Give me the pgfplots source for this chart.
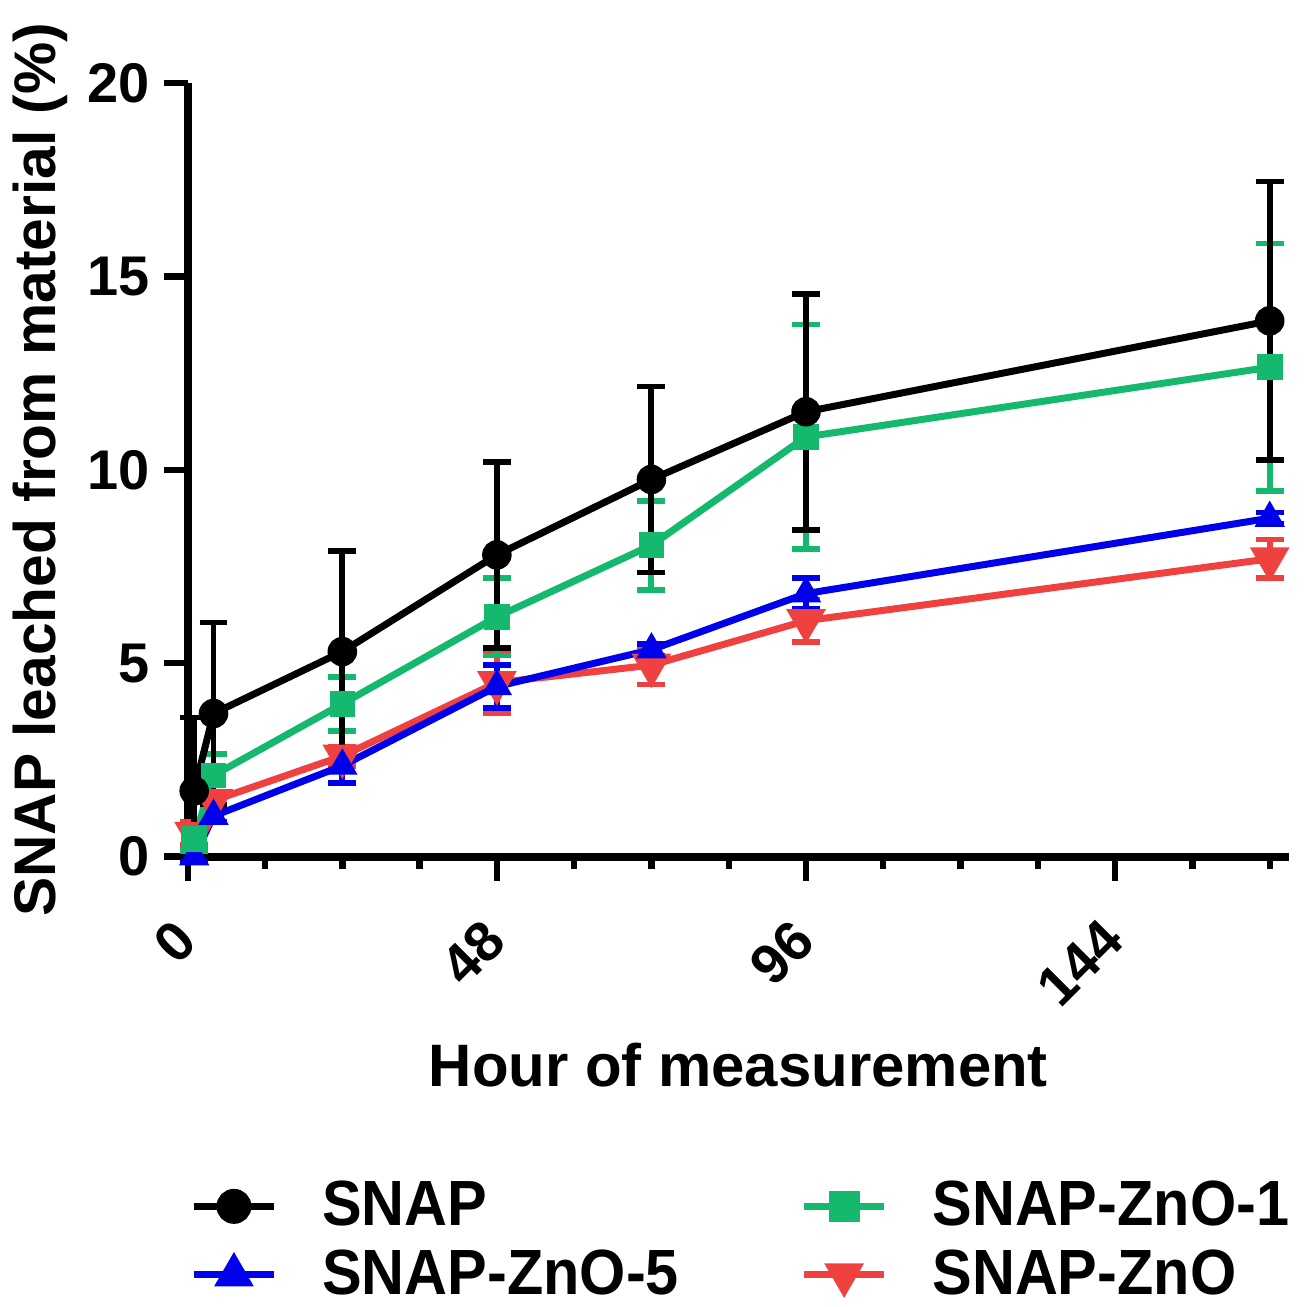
\documentclass[border=0pt]{standalone}
\usepackage{fontspec}
\setmainfont{Liberation Sans}
\newfontfamily\legfont[FakeStretch=0.93]{Liberation Sans}
\usepackage{pgfplots}
\pgfplotsset{compat=1.18}
\definecolor{cgreen}{RGB}{20,185,110}
\definecolor{cred}{RGB}{240,65,65}
\definecolor{cblue}{RGB}{0,0,235}

\pgfplotsset{
  ebar/.style={
    line width=1.75pt,
    mark options={solid, line width=0.4pt},
    error bars/.cd, y dir=both, y explicit,
    error bar style={line width=1.5pt},
    error mark options={rotate=90, line width=1.4pt, mark size=3.5pt},
    /pgfplots/.cd,
  },
}

\begin{document}
\begin{tikzpicture}
\begin{axis}[
  scale only axis,
  width=275.75pt, height=193.75pt,
  xmin=0, xmax=171, ymin=0, ymax=20,
  axis lines*=left,
  axis line style={line width=2pt},
  xtick={0,48,96,144},
  minor xtick={12,24,36,60,72,84,108,120,132,156,168},
  ytick={0,5,10,15,20},
  tick align=outside,
  major tick length=6pt, minor tick length=3pt,
  tick style={line width=1.6pt, black},
  /pgf/number format/assume math mode=true,
  tick label style={font=\fontsize{14}{14}\selectfont\bfseries},
  xticklabel style={xshift=-4pt, yshift=-4pt, rotate=45, anchor=north east},
  label style={font=\fontsize{15}{15}\selectfont\bfseries},
  xlabel={Hour of measurement},
  ylabel={SNAP leached from material (\%)},
  ylabel style={font=\fontsize{14.7}{14.7}\selectfont\bfseries},
  ylabel shift=-2pt,
  clip=false,
  legend columns=2,
  legend cell align=left,
  legend style={draw=none, fill=none, inner sep=0pt,
    at={(0,-0.582)}, xshift=0.5pt, anchor=south west,
    font=\legfont\fontsize{16}{16}\selectfont\bfseries,
    nodes={inner sep=1.5pt}, row sep=1.5pt,
    /tikz/every even column/.append style={column sep=29pt}},
  legend image code/.code={\draw[mark repeat=2, mark phase=2, #1]
    plot coordinates {(0pt,0pt) (10pt,0pt) (20pt,0pt)};
    \path (29.75pt,0pt);},
]
\addlegendimage{black, line width=1.75pt, mark=*, mark size=3.5pt, mark options={solid}}
\addlegendimage{cgreen, line width=1.75pt, mark=square*, mark size=3pt, mark options={solid}}
\addlegendimage{cblue, line width=1.75pt, mark=triangle*, mark size=4pt, mark options={solid}}
\addlegendimage{cred, line width=1.75pt, mark=triangle*, mark size=4pt, mark options={solid, rotate=180}}
\legend{SNAP, SNAP-ZnO-1, SNAP-ZnO-5, SNAP-ZnO}

% room above and to the right, as in the reference
\path (rel axis cs:1,1) ++(4.5pt,20.75pt);

% SNAP-ZnO
\addplot[cred, ebar, mark=triangle*, mark size=4pt, mark options={rotate=180}, forget plot]
coordinates {
  (1,0.6) +- (0,0.3)
  (4,1.45) +- (0,0.2)
  (24,2.6) +- (0,0.25)
  (48,4.5) +- (0,0.8)
  (72,4.95) +- (0,0.5)
  (96,6.1) +- (0,0.55)
  (168,7.7) +- (0,0.5)
};
% SNAP-ZnO-5
\addplot[cblue, ebar, mark=triangle*, mark size=4pt, forget plot]
coordinates {
  (1,0.0) +- (0,0.1)
  (4,1.05) +- (0,0.15)
  (24,2.35) +- (0,0.45)
  (48,4.4) +- (0,0.55)
  (72,5.35) +- (0,0.15)
  (96,6.8) +- (0,0.4)
  (168,8.75) +- (0,0.15)
};
% SNAP-ZnO-1
\addplot[cgreen, ebar, mark=square*, mark size=3pt, forget plot]
coordinates {
  (1,0.45) +- (0,0.3)
  (4,2.1) +- (0,0.55)
  (24,3.95) +- (0,0.7)
  (48,6.2) +- (0,1.0)
  (72,8.05) +- (0,1.15)
  (96,10.85) +- (0,2.9)
  (168,12.65) +- (0,3.2)
};
% SNAP
\addplot[black, ebar, mark=*, mark size=3.5pt, forget plot]
coordinates {
  (1,1.7) += (0,1.9) -= (0,1.7)
  (4,3.7) +- (0,2.35)
  (24,5.3) +- (0,2.6)
  (48,7.8) +- (0,2.4)
  (72,9.75) +- (0,2.4)
  (96,11.5) +- (0,3.05)
  (168,13.85) +- (0,3.6)
};
\end{axis}
\end{tikzpicture}
\end{document}
